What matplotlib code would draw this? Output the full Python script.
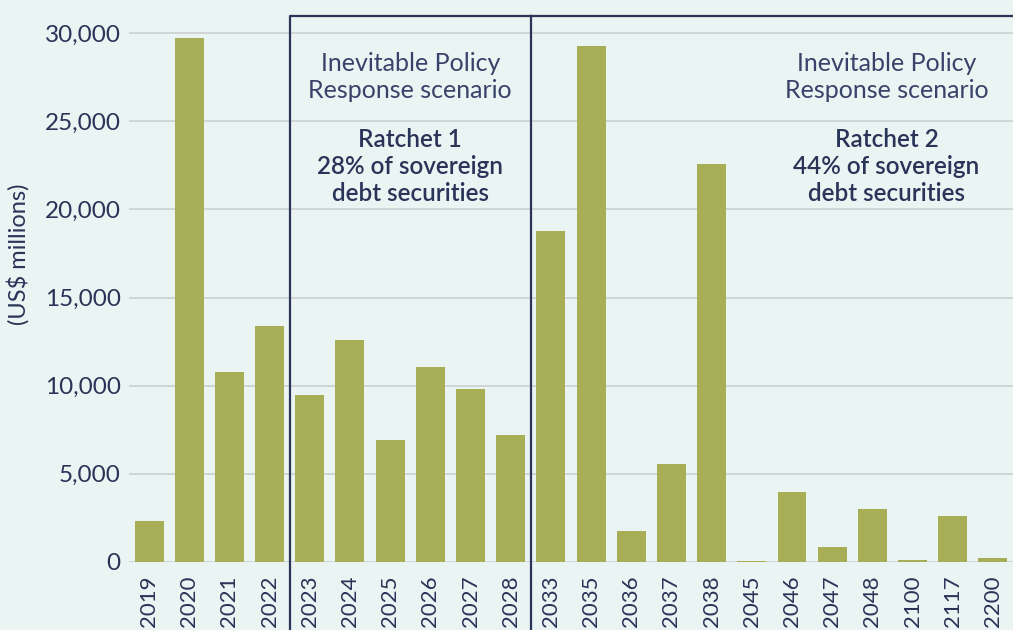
import matplotlib.pyplot as plt
import numpy as np
from matplotlib.lines import Line2D

# maturity years and values (US$ millions)
years = ["2019", "2020", "2021", "2022", "2023", "2024", "2025", "2026", "2027", "2028",
         "2033", "2035", "2036", "2037", "2038", "2045", "2046", "2047", "2048", "2100",
         "2117", "2200"]
values = [2300, 29700, 10800, 13400, 9500, 12600, 6900, 11050, 9800, 7200,
          18800, 29250, 1750, 5550, 22550, 60, 3950, 850, 3000, 100,
          2600, 250]

box_labels = ["Inevitable Policy\nResponse scenario", "Inevitable Policy\nResponse scenario"]
ratchet_labels = ["Ratchet 1\n28% of sovereign\ndebt securities",
                  "Ratchet 2\n44% of sovereign\ndebt securities"]

bg = "#EAF4F2"
bar_col = "#A8AE55"
navy = "#2A3358"
grid_col = "#CDD3D2"

plt.rcParams['font.family'] = ['Lato', 'DejaVu Sans']

fig = plt.figure(figsize=(10.13, 6.30), dpi=100, facecolor=bg)
ax = fig.add_axes([0.1273, 0.108, 0.8727, 0.892], facecolor=bg)

x = np.arange(len(years))
ax.bar(x, values, width=0.72, color=bar_col, zorder=3)

ax.set_xlim(-0.5, 21.5)
ax.set_ylim(0, 31880)
ax.set_yticks(np.arange(0, 30001, 5000))
ax.set_yticklabels([f"{v:,}" for v in range(0, 30001, 5000)], fontsize=17.5, color=navy)
ax.set_xticks(x)
ax.set_xticklabels(years, rotation=90, fontsize=16, color=navy)
ax.tick_params(axis='both', length=0)
ax.tick_params(axis='y', pad=6)
ax.tick_params(axis='x', pad=10)
ax.grid(axis='y', color=grid_col, linewidth=1.3, zorder=0)
for s in ax.spines.values():
    s.set_visible(False)
ax.set_ylabel("(US$ millions)", fontsize=17, color=navy)
ax.yaxis.set_label_coords(-0.112, 0.548)

# scenario boxes (open at bottom, run past the axis)
ytop, ybot = 31000, -4200
for xs, ys in [([3.5, 3.5, 9.5], [ybot, ytop, ytop]),
               ([9.5, 9.5], [ybot, ytop]),
               ([9.5, 21.6], [ytop, ytop])]:
    ax.add_line(Line2D(xs, ys, color=navy, linewidth=1.6, clip_on=False, zorder=5))

for cx, lab, rat in [(6.5, box_labels[0], ratchet_labels[0]),
                     (18.35, box_labels[1], ratchet_labels[1])]:
    ax.text(cx, 27500, lab, ha='center', va='center', fontsize=18, color="#39426A",
            fontweight='normal', linespacing=1.2, zorder=6)
    ax.text(cx, 22450, rat, ha='center', va='center', fontsize=17.5, color=navy,
            fontweight='semibold', linespacing=1.2, zorder=6)

fig.savefig("out.png", dpi=100, facecolor=bg)
